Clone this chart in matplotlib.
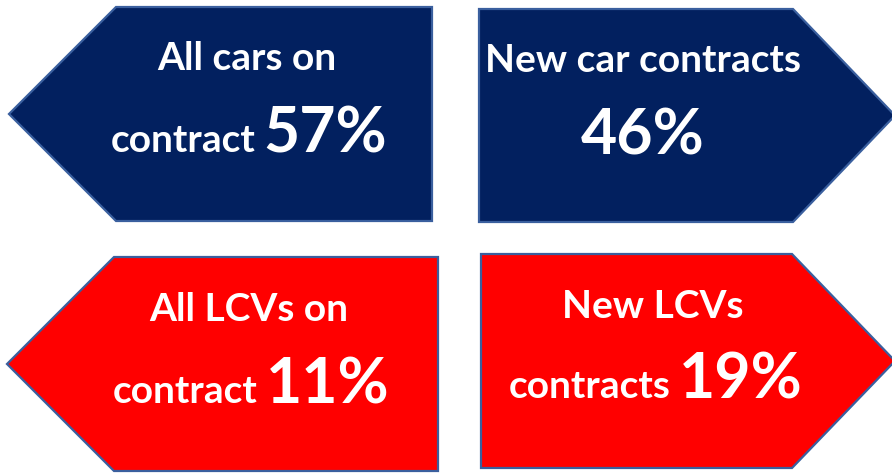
import matplotlib
matplotlib.use("Agg")
import matplotlib.pyplot as plt
from matplotlib.patches import Polygon

# ---- data ----
line1 = ["All cars on", "New car contracts", "All LCVs on", "New LCVs"]
line2 = ["contract", "", "contract", "contracts"]
values = [57, 46, 11, 19]
directions = ["left", "right", "left", "right"]
fills = ["#02205F", "#02205F", "#FF0000", "#FF0000"]

# ---- layout (pixels) ----
W, H = 892, 473
boxes = [  # x0, x1, y0, y1, shoulder x
    (9, 432, 7, 221, 116),
    (479, 895, 9, 222, 793),
    (7, 438, 257, 471, 114),
    (481, 895, 254, 468, 792),
]
edge = "#3A5F9E"
FONT = ["Lato", "DejaVu Sans"]
small = 28
big = 45

fig = plt.figure(figsize=(W / 100, H / 100), dpi=100)
ax = fig.add_axes([0, 0, 1, 1])
ax.set_xlim(0, W)
ax.set_ylim(H, 0)
ax.axis("off")

for (x0, x1, y0, y1, sh), d, c in zip(boxes, directions, fills):
    ym = (y0 + y1) / 2
    if d == "left":
        pts = [(x0, ym), (sh, y0), (x1, y0), (x1, y1), (sh, y1)]
    else:
        pts = [(x0, y0), (sh, y0), (x1, ym), (sh, y1), (x0, y1)]
    ax.add_patch(Polygon(pts, closed=True, facecolor=c, edgecolor=edge, lw=1.6))

# text positions (pixels)
l1_pos = [(247, 70), (643, 72), (249, 321), (653, 318)]
l2_y = [152, 154, 403, 398]
l2_right = [256, None, 258, 671]
pct_left = [263, 643, 266, 679]

for i in range(4):
    ax.text(*l1_pos[i], line1[i], ha="center", va="baseline", color="white",
            fontsize=small, fontweight="bold", family=FONT)
    pct = f"{values[i]}%"
    if line2[i]:
        ax.text(l2_right[i], l2_y[i], line2[i], ha="right", va="baseline", color="white",
                fontsize=small, fontweight="bold", family=FONT)
        ax.text(pct_left[i], l2_y[i], pct, ha="left", va="baseline", color="white",
                fontsize=big, fontweight="bold", family=FONT)
    else:
        ax.text(pct_left[i], l2_y[i], pct, ha="center", va="baseline", color="white",
                fontsize=big, fontweight="bold", family=FONT)

fig.savefig("out.png", dpi=100, facecolor="white")
